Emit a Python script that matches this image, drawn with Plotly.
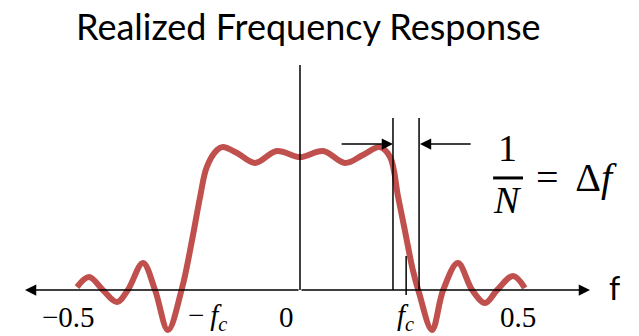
import plotly.graph_objects as go

# Realized (windowed) low-pass response: frequency f and amplitude H
freq = [-0.500, -0.473, -0.442, -0.410, -0.386, -0.352, -0.325, -0.296, -0.265,
        -0.242, -0.224, -0.209, -0.186, -0.173, -0.141, -0.101, -0.052, 0.000,
        0.052, 0.101, 0.141, 0.179, 0.202, 0.220, 0.235, 0.253, 0.267, 0.296,
        0.321, 0.354, 0.386, 0.415, 0.442, 0.478, 0.504]
amp = [0.022, 0.096, 0.000, -0.089, 0.000, 0.200, 0.000, -0.296, 0.007,
       0.370, 0.689, 0.911, 1.037, 1.059, 1.015, 0.941, 1.030, 0.985,
       1.030, 0.941, 1.000, 1.059, 0.985, 0.689, 0.444, 0.148, -0.022, -0.296,
       0.000, 0.200, 0.000, -0.096, 0.000, 0.104, 0.015]

# Frequency-axis labels
tick_pos = [-0.5, -0.207, 0.0, 0.236, 0.5]
tick_text = ["\u22120.5", "\u2212\u2009<i>f</i><sub><i>c</i></sub>", "0",
             "<i>f</i><sub><i>c</i></sub>", "0.5"]
tick_shift = [-8, 0, -13, 0, -5]

# Bin edges around the cutoff marking one bin width 1/N
bin_edges = [0.2085, 0.267]
fc = 0.238

RED = "#C0504D"
fig = go.Figure()
fig.add_trace(go.Scatter(x=freq, y=amp, mode="lines",
                         line=dict(color=RED, width=6, shape="spline", smoothing=1.0),
                         hoverinfo="skip", showlegend=False))

shapes = []
# vertical axis at f = 0
shapes.append(dict(type="line", x0=0, x1=0, y0=0, y1=1.667,
                   line=dict(color="black", width=1.5)))
# bin-edge lines
for e in bin_edges:
    shapes.append(dict(type="line", x0=e, x1=e, y0=0, y1=1.274,
                       line=dict(color="black", width=1.5)))
# short tick at f_c
shapes.append(dict(type="line", x0=fc, x1=fc, y0=-0.037, y1=0.252,
                   line=dict(color="black", width=1.5)))
# fraction bar of 1/N
shapes.append(dict(type="line", x0=0.433, x1=0.500, y0=0.83, y1=0.83,
                   line=dict(color="black", width=3)))

ann = []
# horizontal frequency axis with arrowheads at both ends
for end in [-0.6166, 0.6502]:
    ann.append(dict(x=end, y=0, ax=0, ay=0, xref="x", yref="y", axref="x", ayref="y",
                    showarrow=True, arrowhead=2, arrowsize=1.5, arrowwidth=1.5,
                    arrowcolor="black", text=""))
# dimension arrows pointing at the bin edges
ann.append(dict(x=bin_edges[0], y=1.081, ax=0.090, ay=1.081, xref="x", yref="y",
                axref="x", ayref="y", showarrow=True, arrowhead=2, arrowsize=1.5,
                arrowwidth=1.5, arrowcolor="black", text=""))
ann.append(dict(x=bin_edges[1] + 0.002, y=1.081, ax=0.386, ay=1.081, xref="x", yref="y",
                axref="x", ayref="y", showarrow=True, arrowhead=2, arrowsize=1.5,
                arrowwidth=1.5, arrowcolor="black", text=""))

serif = "Liberation Serif"
for p, t, s in zip(tick_pos, tick_text, tick_shift):
    ann.append(dict(x=p, y=-0.20, xref="x", yref="y", text=t, showarrow=False,
                    xshift=s, yanchor="middle",
                    font=dict(family=serif, size=29, color="black")))

ann.append(dict(x=0.466, y=1.052, xref="x", yref="y", text="1", showarrow=False,
                yanchor="middle", font=dict(family=serif, size=38, color="black")))
ann.append(dict(x=0.466, y=0.665, xref="x", yref="y", text="<i>N</i>", showarrow=False,
                yanchor="middle", font=dict(family=serif, size=38, color="black")))
ann.append(dict(x=0.621, y=0.83, xref="x", yref="y", text="=\u2005\u2006\u0394<i>f</i>",
                showarrow=False, yanchor="middle",
                font=dict(family=serif, size=40, color="black")))
ann.append(dict(x=0.706, y=0.015, xref="x", yref="y", text="f", showarrow=False,
                yanchor="middle", font=dict(family="Lato", size=32, color="black")))
ann.append(dict(x=0.483, y=0.9226, xref="paper", yref="paper",
                text="Realized Frequency Response", showarrow=False,
                xanchor="center", yanchor="middle",
                font=dict(family="Lato", size=36, color="black")))

fig.update_layout(
    width=639, height=336, margin=dict(l=0, r=0, t=0, b=0),
    paper_bgcolor="white", plot_bgcolor="white",
    xaxis=dict(range=[-0.6726, 0.7601], visible=False, fixedrange=True),
    yaxis=dict(range=[-0.3407, 2.1481], visible=False, fixedrange=True),
    shapes=shapes, annotations=ann,
)
fig.write_html("out.html")
